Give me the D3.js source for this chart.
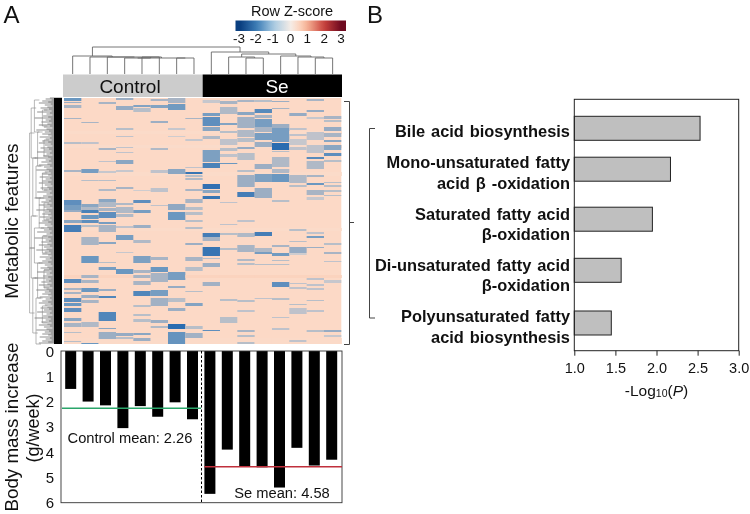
<!DOCTYPE html>
<html><head><meta charset="utf-8">
<script src="https://cdn.jsdelivr.net/npm/d3@7"></script>
<style>html,body{margin:0;padding:0;background:#fff}svg{display:block;filter:blur(0.4px)}text{font-family:"Liberation Sans",Arial,sans-serif;fill:#111}</style>
</head><body><svg id="c" width="750" height="514"></svg>
<script>
// ---------- data ----------
const samples = ["C1","C2","C3","C4","C5","C6","C7","C8","S1","S2","S3","S4","S5","S6","S7","S8"];
const bodyMass = [1.5,2.0,2.15,3.05,2.18,2.6,2.03,2.7,5.65,3.9,4.57,4.6,5.4,3.83,4.53,4.3];
const controlMean = 2.26, seMean = 4.58;
const massTicks = [0,1,2,3,4,5,6];
const pathways = ["Bile acid biosynthesis","Mono-unsaturated fatty acid","Saturated fatty acid","Di-unsaturated fatty acid","Polyunsaturated fatty acid"];
const pathwayValues = [2.53,2.17,1.95,1.57,1.45];
const pathwayLabels = [["Bile acid biosynthesis"],["Mono-unsaturated fatty","acid β -oxidation"],["Saturated fatty acid","β-oxidation"],["Di-unsaturated fatty acid","β-oxidation"],["Polyunsaturated fatty","acid biosynthesis"]];
const logTicks = [1,1.5,2,2.5,3];
const zTicks = [-3,-2,-1,0,1,2,3];
const rowCount = 246;
// low-abundance bands per sample: [first row, last row, z-score]
const bands = [
 [[0,3,-2],[4,5,-1.2],[7,10,-1],[20,21,-1],[44,46,-.8],[72,74,-1],[102,107,-2.2],[107,112,-1.8],[112,114,-1.3],[122,125,-1.5],[127,134,-2.6],[181,185,-2.2],[190,192,-1],[194,196,-1],[200,204,-2.2],[205,208,-2],[210,214,-2.2],[220,223,-1.5],[225,229,-1],[234,235,-.8],[243,244,-.8]],
 [[24,25,-1],[44,46,-.7],[71,75,-1.8],[82,83,-.8],[106,109,-1.5],[109,112,-.9],[112,115,-2.5],[117,121,-2],[122,125,-2.2],[127,129,-.8],[139,147,-1],[158,165,-2],[177,180,-1],[182,185,-1],[190,194,-2],[197,200,-1.2],[202,205,-1],[224,229,-.9],[245,246,-2]],
 [[4,6,-1],[50,52,-1],[63,64,-.7],[73,75,-.6],[82,83,-.8],[91,93,-.9],[101,104,-1.5],[104,109,-.9],[110,113,-1],[114,120,-2.2],[124,126,-1.8],[127,134,-1],[144,146,-1.5],[164,165,-.8],[169,172,-1.8],[191,193,-1.2],[198,200,-2.4],[214,223,-2.4],[230,231,-1.5],[234,241,-1.2]],
 [[0,2,-1.2],[8,12,-1.3],[30,32,-.8],[38,39,-.7],[49,50,-.7],[54,55,-.7],[62,66,-1.5],[72,74,-.6],[89,91,-1],[105,107,-.9],[109,115,-.9],[116,119,-.9],[128,130,-.7],[137,142,-1.8],[154,155,-.6],[171,176,-2],[235,238,-1.3],[239,241,-.8]],
 [[7,9,-1.6],[10,14,-.8],[92,93,-.5],[102,105,-2.2],[112,115,-1.8],[127,130,-1.2],[142,145,-.9],[158,165,-1.7],[172,175,-1],[177,180,-1],[183,187,-1],[193,198,-2.4],[207,209,-.8],[216,218,-.8],[221,224,-.8],[235,237,-1.5],[240,243,-1.2]],
 [[1,3,-1],[7,10,-1.6],[23,25,-1.2],[50,52,-.9],[72,75,-.7],[90,94,-.7],[107,108,-.7],[159,162,-1],[169,174,-2],[175,184,-1],[192,198,-1.8],[200,208,-1.1],[222,225,-1.2],[228,230,-.9]],
 [[0,5,-1],[6,12,-1.9],[30,32,-.6],[38,39,-.5],[71,74,-1.5],[74,76,-1.5],[106,112,-1.4],[114,122,-2],[174,182,-1.8],[188,190,-1.3],[200,204,-.8],[210,213,-1.2],[226,231,-3],[234,246,-2.1]],
 [[20,21,-1],[41,43,-.6],[69,70,-.7],[74,76,-2.8],[77,79,-.8],[80,82,-.9],[91,93,-1],[101,105,-1],[109,112,-.8],[114,117,-.8],[122,124,-.8],[129,131,-.8],[145,147,-1.2],[159,163,-1],[169,173,-.8],[193,194,-.8],[205,208,-1.6],[228,231,-.8],[235,240,-1.1]],
 [[2,5,-.6],[15,18,-1.8],[19,28,-2.2],[29,33,-1.5],[38,41,-.9],[52,64,-1.7],[65,70,-2.5],[86,91,-2.9],[92,95,-1.5],[98,101,-2.8],[135,139,-2.6],[139,143,-1],[149,158,-2.8],[160,161,-.8],[165,169,-1.2],[184,188,-1.1],[232,233,-2.2]],
 [[3,6,-1],[9,16,-.9],[25,27,-1.6],[33,35,-.8],[41,47,-.7],[50,53,-.8],[56,59,-.7],[65,66,-2],[104,105,-.7],[126,127,-.7],[135,137,-.8],[150,152,-.8],[201,203,-.8],[219,225,-.8]],
 [[2,4,-1],[14,17,-1.5],[19,30,-1.1],[32,39,-.9],[40,44,-.8],[49,51,-1.3],[55,62,-.8],[72,74,-.8],[77,89,-1.2],[94,99,-2.6],[122,124,-.7],[135,139,-.9],[147,154,-1],[161,163,-.9],[165,167,-.8],[202,204,-.8],[212,214,-.7],[232,234,-1],[237,239,-.8],[244,246,-.8]],
 [[2,4,-.8],[11,15,-2.3],[17,20,-1],[21,29,-1.8],[29,34,-1],[35,42,-1.8],[44,49,-1.2],[66,71,-1.2],[76,84,-1.7],[90,100,-1.2],[134,138,-2.6],[150,154,-.9],[154,156,-1.8],[166,167,-.8],[200,201,-.7]],
 [[3,4,-1.2],[10,11,-1],[26,30,-1.2],[30,44,-1.8],[45,52,-3],[53,54,-.8],[59,69,-.9],[71,75,-.9],[76,84,-2],[102,104,-.8],[147,149,-1],[155,158,-1.9],[162,163,-.8],[166,167,-.8],[184,189,-2.2],[200,202,-.8],[219,220,-.7],[230,232,-.7]],
 [[15,18,-1.3],[30,32,-.7],[36,38,-.7],[41,47,-.6],[49,52,-.7],[77,85,-.9],[87,89,-.8],[131,133,-.8],[143,144,-.8],[149,155,-1.3],[155,157,-.5],[185,186,-.7],[189,191,-.7],[206,207,-.8],[210,216,-.7],[242,244,-.7]],
 [[1,3,-1],[12,14,-1.3],[19,21,-.6],[34,42,-.7],[47,55,-.7],[59,61,-2.3],[63,71,-.9],[77,79,-1],[85,87,-2],[92,97,-1],[99,102,-.6],[134,136,-.7],[138,140,-1.8],[149,150,-1.2],[180,182,-.7],[186,188,-.7],[190,192,-.7],[202,203,-.8],[212,214,-.7],[232,234,-.8]],
 [[18,21,-1],[22,24,-.8],[29,33,-1.3],[35,39,-1],[42,44,-1.5],[47,52,-1.5],[55,58,-2.2],[62,64,-.8],[84,85,-.8],[87,89,-.8],[92,94,-.8],[97,98,-.8],[145,147,-.8],[154,156,-1],[163,164,-.7],[182,185,-.6],[232,234,-1.3],[237,239,-.6]]
];
// paler rows that run through the background
const paleRows = [[33,36,.42],[47,50,.4],[74,78,.42],[130,133,.42],[177,180,.62],[240,246,.44]];
const zBase = .5;
const colDend = [[0,[1,[2,[[3,[4,5,17],16],[6,7,16],16],17],17],18],[8,[[9,[10,11,16],17],[12,[13,[14,15,16],17],18],20],22]];
const colDendH = {root:27};
// leaf depth of the row dendrogram
const rowLeaves = [6,11,4,15,8,19,5,12,3,9,17,7,13,4,21,6,10,3,14,8,24,5,11,7,16,4,9,19,6,13,3,10,22,7,12,5,15,8,4,18];
const rowClusters = [[2,34,4],[34,68,6],[68,100,5],[100,130,7],[130,165,4],[165,200,6],[200,246,5],[10,60,2],[60,118,3],[118,180,2],[180,235,3],[35,150,1],[150,215,1],[12,28,9],[42,58,10],[75,92,9],[105,122,10],[138,155,9],[172,190,10],[208,225,9]];

// ---------- helpers ----------
const svg = d3.select("#c");
const txt = (x,y,s,size,opt={}) => {const t=svg.append("text").attr("x",x).attr("y",y).attr("font-size",size).attr("text-anchor",opt.a||"middle").attr("dominant-baseline","central").text(s);
 if(opt.w)t.attr("font-weight",opt.w); if(opt.fill)t.style("fill",opt.fill); if(opt.rot!=null)t.attr("transform",`rotate(${opt.rot} ${x} ${y})`); if(opt.ws)t.attr("word-spacing",opt.ws); return t;};
const zColor = d3.scaleLinear().domain([-3,-2,-1,0,.5,1,2,3]).range(["#0a3f80","#3f7fb8","#a9cbe2","#f5ece6","#fcd5c0","#f5b093","#c8413c","#6f0a20"]);
const heatColor = d3.scaleLinear().domain([-3,-2,-1,0,.5,1]).range(["#2a6cb0","#6b97c0","#a8b4c4","#f3e4da","#fcd9c6","#f8bfa5"]);

const defs = svg.append("defs");
defs.append("filter").attr("id","vblur").attr("x","-2%").attr("width","104%").append("feGaussianBlur").attr("stdDeviation","0.4 0.75");

txt(11.5,14,"A",24); txt(375,14,"B",24);

// legend
const zx = d3.scaleLinear().domain([-3,3]).range([240,341]);
const grad = defs.append("linearGradient").attr("id","lg");
d3.range(-3.3,3.31,.3).forEach(v=>grad.append("stop").attr("offset",(v+3.3)/6.6).attr("stop-color",zColor(Math.max(-3,Math.min(3,v)))));
svg.append("rect").attr("x",235.5).attr("y",20.5).attr("width",110.5).attr("height",10.5).attr("fill","url(#lg)");
txt(292,10.5,"Row Z-score",14.5);
zTicks.forEach(v=>txt(zx(v)-(v<0?1:0),38.5,v,13.5));

// column dendrogram
const hm = d3.scaleBand().domain(samples).range([64,341.3]);
const cx = i => hm(samples[i])+hm.bandwidth()/2;
const dy = h => 74-h;
const gD = svg.append("g").attr("fill","none").attr("stroke","#666").attr("stroke-width",.9);
function layout(n){ if(typeof n==="number") return {x:cx(n),h:0};
  const h=n[2]; const a=layout(n[0]), b=layout(n[1]);
  gD.append("path").attr("d",`M${a.x} ${dy(a.h)}V${dy(h)}H${b.x}V${dy(b.h)}`);
  return {x:(a.x+b.x)/2,h}; }
{const a=layout(colDend[0]),b=layout(colDend[1]);
 gD.append("path").attr("d",`M${a.x} ${dy(a.h)}V${dy(colDendH.root)}H${b.x}V${dy(b.h)}`);}

// group bars
const splitX = hm(samples[8]);
svg.append("rect").attr("x",63).attr("y",74.5).attr("width",splitX-63).attr("height",22.5).attr("fill","#cccccc");
svg.append("rect").attr("x",splitX).attr("y",74.5).attr("width",342-splitX).attr("height",22.5).attr("fill","#000");
txt(130,86.5,"Control",19); txt(277,86.5,"Se",19,{fill:"#fff"});

// heatmap
const ry = d3.scaleLinear().domain([0,rowCount]).range([98,344]);
const gH = svg.append("g").attr("filter","url(#vblur)");
gH.append("rect").attr("x",hm(samples[0])).attr("y",ry(0)).attr("width",hm.range()[1]-hm.range()[0]).attr("height",ry(rowCount)-ry(0)).attr("fill",heatColor(zBase));
samples.forEach((s,i)=>{
  paleRows.forEach(b=>gH.append("rect").attr("x",hm(s)).attr("y",ry(b[0])).attr("width",hm.bandwidth()+.5).attr("height",ry(b[1])-ry(b[0])).attr("fill",heatColor(b[2])));
  bands[i].forEach(b=>gH.append("rect").attr("x",hm(s)).attr("y",ry(b[0])).attr("width",hm.bandwidth()).attr("height",ry(b[1])-ry(b[0])).attr("fill",heatColor(b[2])));
});

// row dendrogram
const dx = d => 55-d*.85;
const gR = svg.append("g").attr("fill","none");
d3.range(0,rowCount,1).forEach((r,i)=>{
  gR.append("line").attr("x1",62).attr("x2",dx(rowLeaves[i%rowLeaves.length])).attr("y1",ry(r)).attr("y2",ry(r)).attr("stroke","#444").attr("stroke-width",.6);
});
svg.append("rect").attr("x",54).attr("y",98).attr("width",8).attr("height",246).attr("fill","#000");
rowClusters.forEach(c=>{
  const x=28+c[2]*1.6;
  gR.append("path").attr("d",`M${x+5} ${ry(c[0])}H${x}V${ry(c[1])}H${x+5}`).attr("stroke","#888").attr("stroke-width",.6);
});
txt(11.5,221,"Metabolic features",19,{rot:-90});

// brackets
const gB = svg.append("g").attr("fill","none").attr("stroke","#444").attr("stroke-width",1);
gB.append("path").attr("d","M344 101.5H349.5V344.5H344M349.5 222.5H354");
gB.append("path").attr("d","M375 128.5H369.5V318H375");

// body mass panel
const my = d3.scaleLinear().domain([0,6]).range([351,502.7]);
const mx = d3.scaleBand().domain(samples).range([62,340.4]);
svg.selectAll(".m").data(bodyMass).join("rect").attr("x",(d,i)=>mx(samples[i])+3.2).attr("y",my(0)).attr("width",11).attr("height",d=>my(d)-my(0)).attr("fill","#000");
svg.append("rect").attr("x",61).attr("y",my(0)).attr("width",281).attr("height",my(6)-my(0)).attr("fill","none").attr("stroke","#333").attr("stroke-width",.9);
massTicks.forEach(v=>txt(54,my(v),v,15,{a:"end"}));
svg.append("line").attr("x1",201.5).attr("x2",201.5).attr("y1",my(0)).attr("y2",my(6)).attr("stroke","#000").attr("stroke-dasharray","2.5,2");
svg.append("line").attr("x1",62).attr("x2",201).attr("y1",my(controlMean)).attr("y2",my(controlMean)).attr("stroke","#2aa56a").attr("stroke-width",1.5);
svg.append("line").attr("x1",204.5).attr("x2",342).attr("y1",my(seMean)).attr("y2",my(seMean)).attr("stroke","#c0303c").attr("stroke-width",1.5);
txt(130,437.5,"Control mean: 2.26",14.7);
txt(282,493,"Se mean: 4.58",14.7);
txt(11.5,427,"Body mass increase",18.8,{rot:-90});
txt(33,428,"(g/week)",18,{rot:-90});

// pathway panel
const px = d3.scaleLinear().domain([1,3]).range([574.3,738.7]);
const py = d3.scaleOrdinal().domain(pathways).range([128.3,169.2,219.2,270.3,323]);
svg.selectAll(".p").data(pathwayValues).join("rect").attr("x",px(1)).attr("y",(d,i)=>py(pathways[i])-12).attr("width",d=>px(d)-px(1)).attr("height",24).attr("fill","#bfbfbf").attr("stroke","#222").attr("stroke-width",1);
svg.append("rect").attr("x",px(1)).attr("y",99.3).attr("width",px(3)-px(1)).attr("height",251.4).attr("fill","none").attr("stroke","#222").attr("stroke-width",1);
const ax = svg.append("g").attr("transform","translate(0,350.7)").call(d3.axisBottom(px).tickValues(logTicks).tickFormat(d3.format(".1f")).tickSize(5).tickSizeOuter(0));
ax.select(".domain").remove(); ax.selectAll("line").attr("stroke","#222");
ax.selectAll("text").attr("font-size",14.5).attr("font-family","Liberation Sans").attr("dy",0).attr("y",17.5).attr("dominant-baseline","central");
const labelY = [[131],[161.7,182.7],[213.7,234.3],[264.7,285.3],[316,337]];
pathwayLabels.forEach((ls,i)=>ls.forEach((l,j)=>txt(570,labelY[i][j],l,16.4,{a:"end",w:"bold",ws:1.4})));
const xl = txt(656.5,390,"-Log",15.5);
xl.append("tspan").attr("font-size",10.5).attr("dy",3).text("10");
xl.append("tspan").attr("dy",-3).text("(");
xl.append("tspan").attr("font-style","italic").text("P");
xl.append("tspan").text(")");
</script></body></html>
